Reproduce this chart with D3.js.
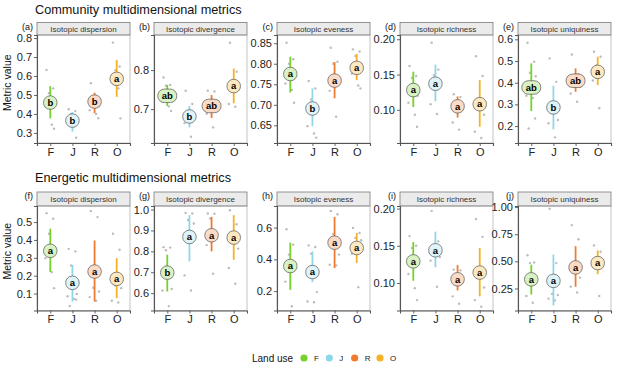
<!DOCTYPE html>
<html>
<head>
<meta charset="utf-8">
<script src="https://cdn.jsdelivr.net/npm/d3@7"></script>
<style>
  body { margin: 0; background: #fff; }
  svg { display: block; font-family: "Liberation Sans", Arial, sans-serif; }
</style>
</head>
<body>
<svg id="chart" width="617" height="373"></svg>
<script>
"use strict";

// ---- data ----
var landUse = ["F", "J", "R", "O"];
var metricNames = ["Isotopic dispersion", "Isotopic divergence", "Isotopic eveness",
    "Isotopic richness", "Isotopic uniquiness"];
var communityTags = ["(a)", "(b)", "(c)", "(d)", "(e)"];
var energeticTags = ["(f)", "(g)", "(h)", "(i)", "(j)"];

// Community multidimensional metrics
var communityMean = [
    [0.46, 0.365, 0.465, 0.585],
    [0.734, 0.681, 0.708, 0.759],
    [0.775, 0.691, 0.759, 0.79],
    [0.128, 0.137, 0.105, 0.108],
    [0.378, 0.286, 0.409, 0.45]
];
var communityLow = [
    [0.377, 0.307, 0.404, 0.49],
    [0.708, 0.653, 0.677, 0.715],
    [0.73, 0.648, 0.716, 0.76],
    [0.104, 0.112, 0.089, 0.076],
    [0.269, 0.185, 0.358, 0.389]
];
var communityHigh = [
    [0.547, 0.41, 0.512, 0.684],
    [0.762, 0.708, 0.736, 0.804],
    [0.817, 0.74, 0.804, 0.824],
    [0.154, 0.164, 0.119, 0.142],
    [0.489, 0.386, 0.466, 0.52]
];
var communityLetters = [
    ["b", "b", "b", "a"],
    ["ab", "b", "ab", "a"],
    ["a", "b", "a", "a"],
    ["a", "a", "a", "a"],
    ["ab", "b", "ab", "a"]
];
var communityPoints = [
    [[0.632, 0.535, 0.51, 0.47, 0.44, 0.343, 0.322],
     [0.425, 0.415, 0.40, 0.38, 0.36, 0.35, 0.275],
     [0.562, 0.49, 0.47, 0.44, 0.42, 0.40, 0.378],
     [0.776, 0.65, 0.63, 0.60, 0.57, 0.535, 0.377]],
    [[0.781, 0.762, 0.760, 0.735, 0.719, 0.707, 0.695],
     [0.747, 0.713, 0.69, 0.68, 0.664, 0.629],
     [0.747, 0.745, 0.72, 0.70, 0.688, 0.653],
     [0.87, 0.796, 0.77, 0.75, 0.713, 0.706]],
    [[0.851, 0.811, 0.80, 0.77, 0.752, 0.736, 0.705],
     [0.758, 0.74, 0.713, 0.69, 0.648, 0.63, 0.62],
     [0.839, 0.805, 0.80, 0.76, 0.734, 0.671],
     [0.835, 0.83, 0.819, 0.80, 0.776, 0.747, 0.74]],
    [[0.162, 0.148, 0.145, 0.12, 0.11, 0.093, 0.076],
     [0.195, 0.157, 0.149, 0.14, 0.108, 0.094],
     [0.122, 0.118, 0.11, 0.10, 0.082, 0.072],
     [0.176, 0.148, 0.11, 0.093, 0.069, 0.06]],
    [[0.584, 0.497, 0.446, 0.43, 0.34, 0.33, 0.235, 0.189],
     [0.512, 0.404, 0.26, 0.228, 0.213, 0.148],
     [0.53, 0.44, 0.41, 0.38, 0.35, 0.312],
     [0.543, 0.52, 0.48, 0.45, 0.41, 0.282]]
];
var communityTicks = [
    [0.3, 0.4, 0.5, 0.6, 0.7, 0.8],
    [0.7, 0.8],
    [0.65, 0.70, 0.75, 0.80, 0.85],
    [0.10, 0.15, 0.20],
    [0.2, 0.3, 0.4, 0.5, 0.6]
];
var communityFormats = [".1f", ".1f", ".2f", ".2f", ".1f"];
var communityDomains = [
    [0.247, 0.816], [0.613, 0.89], [0.607, 0.87], [0.053, 0.206], [0.122, 0.62]
];

// Energetic multidimensional metrics
var energeticMean = [
    [0.339, 0.16, 0.223, 0.182],
    [0.698, 0.869, 0.877, 0.866],
    [0.358, 0.32, 0.505, 0.472],
    [0.129, 0.144, 0.105, 0.114],
    [0.334, 0.32, 0.444, 0.484]
];
var energeticLow = [
    [0.22, 0.055, 0.055, 0.074],
    [0.608, 0.752, 0.80, 0.76],
    [0.208, 0.257, 0.345, 0.377],
    [0.103, 0.121, 0.09, 0.082],
    [0.194, 0.094, 0.266, 0.381]
];
var energeticHigh = [
    [0.463, 0.26, 0.397, 0.298],
    [0.784, 0.973, 0.965, 0.973],
    [0.505, 0.45, 0.667, 0.566],
    [0.155, 0.169, 0.124, 0.147],
    [0.469, 0.563, 0.64, 0.6]
];
var energeticLetters = [
    ["a", "a", "a", "a"],
    ["b", "a", "a", "a"],
    ["a", "a", "a", "a"],
    ["a", "a", "a", "a"],
    ["a", "a", "a", "a"]
];
var energeticPoints = [
    [[0.55, 0.519, 0.435, 0.36, 0.298, 0.22, 0.13],
     [0.35, 0.336, 0.257, 0.098, 0.085, 0.07, 0.066, 0.03],
     [0.562, 0.528, 0.132, 0.111, 0.08, 0.06],
     [0.435, 0.345, 0.145, 0.13, 0.06, 0.05]],
    [[0.82, 0.818, 0.805, 0.62, 0.613, 0.538],
     [0.984, 0.981, 0.95, 0.933, 0.685, 0.613],
     [0.981, 0.98, 0.957, 0.885, 0.83, 0.693],
     [0.997, 0.93, 0.877, 0.813, 0.72, 0.645]],
    [[0.59, 0.493, 0.43, 0.36, 0.26, 0.105],
     [0.488, 0.478, 0.436, 0.194, 0.135, 0.13],
     [0.705, 0.684, 0.56, 0.43, 0.366, 0.362],
     [0.598, 0.566, 0.535, 0.52, 0.436, 0.225]],
    [[0.163, 0.15, 0.147, 0.13, 0.112, 0.093, 0.077],
     [0.197, 0.156, 0.146, 0.135, 0.13, 0.095],
     [0.118, 0.117, 0.11, 0.10, 0.082, 0.072],
     [0.186, 0.162, 0.11, 0.094, 0.077, 0.068]],
    [[0.556, 0.49, 0.484, 0.34, 0.181, 0.119],
     [0.984, 0.484, 0.2, 0.19, 0.156, 0.14],
     [0.834, 0.703, 0.45, 0.35, 0.266, 0.213],
     [0.647, 0.588, 0.52, 0.5, 0.47, 0.181]]
];
var energeticTicks = [
    [0.1, 0.2, 0.3, 0.4, 0.5],
    [0.6, 0.7, 0.8, 0.9, 1.0],
    [0.2, 0.4, 0.6],
    [0.10, 0.15, 0.20],
    [0.25, 0.50, 0.75, 1.00]
];
var energeticFormats = [".1f", ".1f", ".1f", ".2f", ".2f"];
var energeticDomains = [
    [0.005, 0.59], [0.517, 1.017], [0.078, 0.736], [0.063, 0.2035], [0.047, 1.01]
];

// ---- style / layout ----
var colors = ["#76d12b", "#8dd7ea", "#ef7b31", "#f6b124"];
var jitterPattern = [-0.17, 0.13, -0.06, 0.2, -0.22, 0.07, 0.17, -0.12];
var panelLefts = [37, 154, 277, 400, 518];
var panelWidth = 93;

var rows = [
    { title: "Community multidimensional metrics", titleY: 14, stripTop: 22.5, top: 35, bottom: 143,
      mean: communityMean, low: communityLow, high: communityHigh, letters: communityLetters,
      points: communityPoints, ticks: communityTicks, formats: communityFormats,
      domains: communityDomains, tags: communityTags },
    { title: "Energetic multidimensional metrics", titleY: 182, stripTop: 192, top: 206, bottom: 310.5,
      mean: energeticMean, low: energeticLow, high: energeticHigh, letters: energeticLetters,
      points: energeticPoints, ticks: energeticTicks, formats: energeticFormats,
      domains: energeticDomains, tags: energeticTags }
];

var svg = d3.select("#chart");

rows.forEach(function (row) {
    svg.append("text")
        .attr("x", 35)
        .attr("y", row.titleY)
        .attr("font-size", 12.7)
        .attr("fill", "#111")
        .text(row.title);

    svg.append("text")
        .attr("transform", "translate(11," + ((row.stripTop + row.bottom) / 2) + ")rotate(-90)")
        .attr("text-anchor", "middle")
        .attr("font-size", 10.5)
        .attr("fill", "#111")
        .text("Metric value");

    metricNames.forEach(function (name, p) {
        var left = panelLefts[p];
        var g = svg.append("g").attr("transform", "translate(" + left + ",0)");

        var xScale = d3.scalePoint()
            .domain(landUse)
            .range([0, panelWidth])
            .padding(0.6);
        var step = xScale.step();

        var yScale = d3.scaleLinear()
            .domain(row.domains[p])
            .range([row.bottom, row.top]);

        // strip
        g.append("rect")
            .attr("x", 0).attr("y", row.stripTop)
            .attr("width", panelWidth).attr("height", row.top - row.stripTop)
            .attr("fill", "#ebebeb")
            .attr("stroke", "#7a7a7a")
            .attr("stroke-width", 0.8);
        g.append("text")
            .attr("x", panelWidth / 2)
            .attr("y", row.stripTop + (row.top - row.stripTop) / 2 + 3)
            .attr("text-anchor", "middle")
            .attr("font-size", 8)
            .attr("fill", "#333")
            .text(name);
        g.append("text")
            .attr("x", -4)
            .attr("y", row.stripTop + 7)
            .attr("text-anchor", "end")
            .attr("font-size", 9)
            .attr("fill", "#111")
            .text(row.tags[p]);

        // panel border
        g.append("rect")
            .attr("x", 0).attr("y", row.top)
            .attr("width", panelWidth).attr("height", row.bottom - row.top)
            .attr("fill", "none")
            .attr("stroke", "#9a9a9a")
            .attr("stroke-width", 0.6);

        // grey raw points
        landUse.forEach(function (lu, i) {
            g.selectAll(null)
                .data(row.points[p][i])
                .enter()
                .append("circle")
                .attr("cx", function (d, k) { return xScale(lu) + jitterPattern[k % jitterPattern.length] * step; })
                .attr("cy", function (d) { return yScale(d); })
                .attr("r", 1.2)
                .attr("fill", "#a0a0a0")
                .attr("fill-opacity", 0.7);
        });

        // intervals
        g.selectAll(null)
            .data(landUse)
            .enter()
            .append("line")
            .attr("x1", function (d) { return xScale(d); })
            .attr("x2", function (d) { return xScale(d); })
            .attr("y1", function (d, i) { return yScale(row.low[p][i]); })
            .attr("y2", function (d, i) { return yScale(row.high[p][i]); })
            .attr("stroke", function (d, i) { return colors[i]; })
            .attr("stroke-width", 1.8);

        // letter labels
        landUse.forEach(function (lu, i) {
            var txt = row.letters[p][i];
            var w = txt.length > 1 ? 19 : 13.5;
            var h = 13.5;
            var cx = xScale(lu), cy = yScale(row.mean[p][i]);
            g.append("rect")
                .attr("x", cx - w / 2).attr("y", cy - h / 2)
                .attr("width", w).attr("height", h)
                .attr("rx", 6.5).attr("ry", 6.5)
                .attr("fill", "#fff");
            g.append("rect")
                .attr("x", cx - w / 2).attr("y", cy - h / 2)
                .attr("width", w).attr("height", h)
                .attr("rx", 6.5).attr("ry", 6.5)
                .attr("fill", colors[i])
                .attr("fill-opacity", 0.28)
                .attr("stroke", "#555")
                .attr("stroke-width", 0.7);
            g.append("text")
                .attr("x", cx).attr("y", cy + 3.3)
                .attr("text-anchor", "middle")
                .attr("font-size", 9.5)
                .attr("font-weight", "bold")
                .attr("fill", "#000")
                .text(txt);
        });

        // axes
        var yAxis = g.append("g")
            .call(d3.axisLeft(yScale)
                .tickValues(row.ticks[p])
                .tickFormat(d3.format(row.formats[p]))
                .tickSize(3)
                .tickPadding(2));
        var xAxis = g.append("g")
            .attr("transform", "translate(0," + row.bottom + ")")
            .call(d3.axisBottom(xScale).tickSize(3).tickPadding(2));

        [yAxis, xAxis].forEach(function (ax) {
            ax.select(".domain").attr("stroke", "#555").attr("stroke-width", 1.1);
            ax.selectAll(".tick line").attr("stroke", "#555").attr("stroke-width", 0.9);
            ax.selectAll(".tick text")
                .attr("font-size", 11)
                .attr("fill", "#222")
                .attr("font-family", "Liberation Sans, Arial, sans-serif");
        });
    });
});

// legend
var legend = svg.append("g").attr("transform", "translate(0,358)");
legend.append("text")
    .attr("x", 252).attr("y", 3.5)
    .attr("font-size", 10)
    .attr("fill", "#111")
    .text("Land use");
var legendX = d3.scalePoint().domain(landUse).range([304, 380]);
legend.selectAll(null)
    .data(landUse)
    .enter()
    .append("circle")
    .attr("cx", function (d) { return legendX(d); })
    .attr("cy", 0)
    .attr("r", 3.6)
    .attr("fill", function (d, i) { return colors[i]; });
legend.selectAll(null)
    .data(landUse)
    .enter()
    .append("text")
    .attr("x", function (d) { return legendX(d) + 10; })
    .attr("y", 3)
    .attr("font-size", 8)
    .attr("fill", "#222")
    .text(function (d) { return d; });
</script>
</body>
</html>
